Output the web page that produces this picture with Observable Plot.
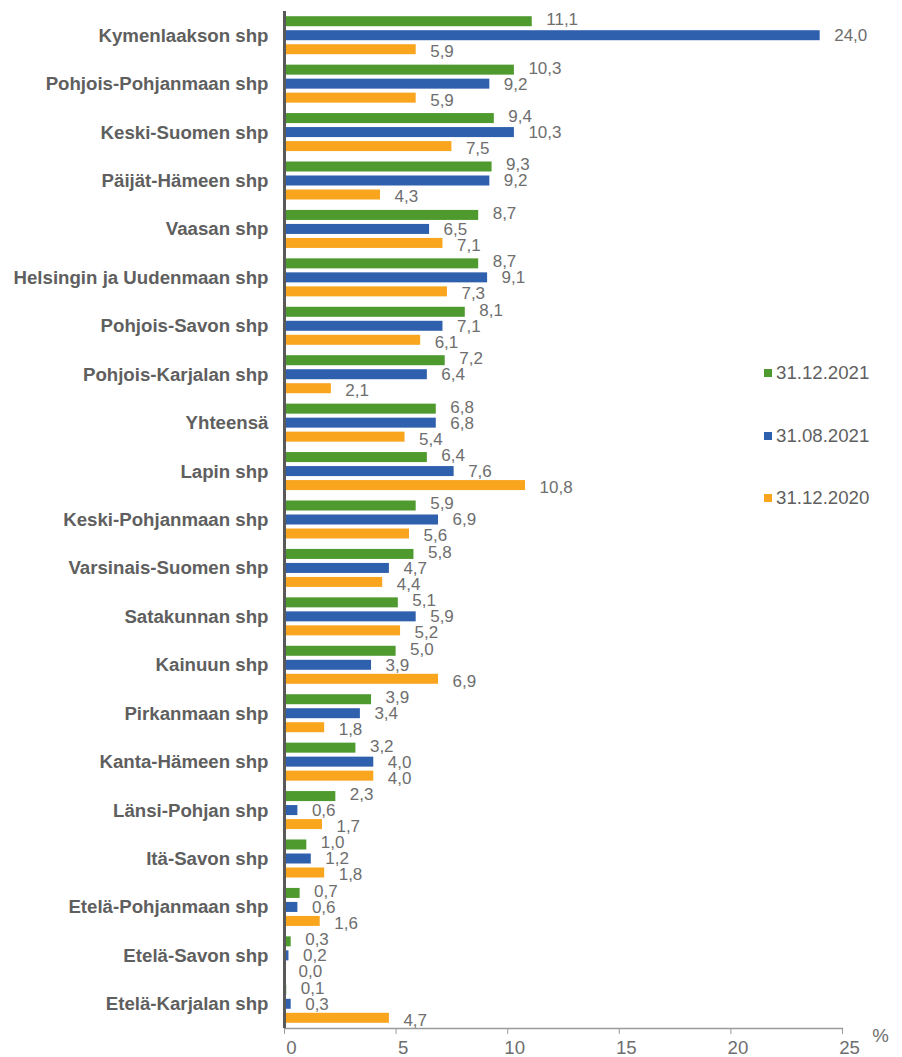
<!DOCTYPE html>
<html><head><meta charset="utf-8">
<script src="https://cdn.jsdelivr.net/npm/d3@7"></script>
<script src="https://cdn.jsdelivr.net/npm/@observablehq/plot@0.6"></script>
<style>
body{margin:0;background:#fff;font-family:"Liberation Sans",Arial,sans-serif;}
#wrap{position:relative;width:902px;height:1057px;}
.legend{position:absolute;left:764px;font-size:18.67px;color:#5f5f5f;font-family:"Liberation Sans",Arial,sans-serif;}
.legend .item{position:absolute;left:0;white-space:nowrap;display:flex;align-items:center;transform:translateY(-50%);}
.legend .sw{width:8px;height:8px;margin-right:4px;display:inline-block;}
</style></head><body><div id="wrap"></div>
<script>
const categories = ["Kymenlaakson shp","Pohjois-Pohjanmaan shp","Keski-Suomen shp","Päijät-Hämeen shp","Vaasan shp","Helsingin ja Uudenmaan shp","Pohjois-Savon shp","Pohjois-Karjalan shp","Yhteensä","Lapin shp","Keski-Pohjanmaan shp","Varsinais-Suomen shp","Satakunnan shp","Kainuun shp","Pirkanmaan shp","Kanta-Hämeen shp","Länsi-Pohjan shp","Itä-Savon shp","Etelä-Pohjanmaan shp","Etelä-Savon shp","Etelä-Karjalan shp"];
const seriesNames = ["31.12.2021","31.08.2021","31.12.2020"];
const values2021dec = [11.1,10.3,9.4,9.3,8.7,8.7,8.1,7.2,6.8,6.4,5.9,5.8,5.1,5.0,3.9,3.2,2.3,1.0,0.7,0.3,0.1];
const values2021aug = [24.0,9.2,10.3,9.2,6.5,9.1,7.1,6.4,6.8,7.6,6.9,4.7,5.9,3.9,3.4,4.0,0.6,1.2,0.6,0.2,0.3];
const values2020dec = [5.9,5.9,7.5,4.3,7.1,7.3,6.1,2.1,5.4,10.8,5.6,4.4,5.2,6.9,1.8,4.0,1.7,1.8,1.6,0.0,4.7];
const seriesColors = ["#4e9a2e","#2f60ad","#f9a51d"];
const xTicks = [0,5,10,15,20,25];

const seriesValues = [values2021dec, values2021aug, values2020dec];
const W = 902, H = 1057, mt = 11, mb = 29, ml = 284, mr = 60;
const step = (H - mt - mb) / categories.length;
const barH = 10, gap = 4;
const groupH = 3 * barH + 2 * gap;
const off0 = (step - groupH) / 2;
const labelExtra = [-2, 0, 2];
const fmt = v => d3.format(".1f")(v).replace(".", ",");

const marks = [];
seriesValues.forEach((vals, i) => {
  const rows = categories.map((c, j) => ({category: c, value: vals[j]}));
  const top = off0 + i * (barH + gap);
  marks.push(Plot.barX(rows, {x: "value", y: "category", fill: seriesColors[i],
    insetTop: top, insetBottom: step - top - barH}));
  marks.push(Plot.text(rows, {x: "value", y: "category", text: d => fmt(d.value),
    dx: 14, dy: top + barH / 2 - step / 2 + labelExtra[i], textAnchor: "start",
    fill: "#6e6e6e", fontSize: 17}));
});

const chart = Plot.plot({
  width: W, height: H,
  marginTop: mt, marginBottom: mb, marginLeft: ml, marginRight: mr,
  style: {fontFamily: '"Liberation Sans", Arial, sans-serif', background: "#fff"},
  x: {domain: [0, 25]},
  y: {domain: categories, padding: 0, round: false},
  marks: [
    Plot.frame({anchor: "bottom", stroke: "#9a9a9a", strokeWidth: 1.3}),
    ...marks,
    Plot.ruleX([0], {stroke: "#595959", strokeWidth: 3}),
    Plot.axisX({ticks: xTicks, tickSize: 6, fill: "none", stroke: "#9a9a9a", label: null}),
    Plot.axisX({ticks: xTicks, tickSize: 0, tickPadding: 12, dx: 7, fill: "#6e6e6e", fontSize: 18.67, label: null}),
    Plot.axisY({tickSize: 0, tickPadding: 16, fontSize: 18.67, fontWeight: "bold", fill: "#5f5f5f", label: null}),
    Plot.text(["%"], {frameAnchor: "bottom-right", dx: 38, dy: 13, text: d => d, textAnchor: "middle", fill: "#6e6e6e", fontSize: 18.67})
  ]
});
const wrap = document.getElementById("wrap");
wrap.appendChild(chart);

const legend = document.createElement("div");
legend.className = "legend";
const legendY = [373, 436, 498];
seriesNames.forEach((name, i) => {
  const item = document.createElement("div");
  item.className = "item";
  item.style.top = legendY[i] + "px";
  const sw = document.createElement("span");
  sw.className = "sw";
  sw.style.background = seriesColors[i];
  item.appendChild(sw);
  item.appendChild(document.createTextNode(name));
  legend.appendChild(item);
});
legend.style.top = "0px";
wrap.appendChild(legend);
</script>
</body></html>
